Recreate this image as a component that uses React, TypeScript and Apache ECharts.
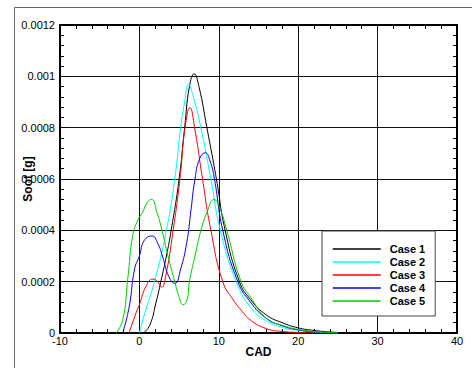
import React, { useEffect, useRef } from "react";
import * as echarts from "echarts";

const caseNames = ["Case 1", "Case 2", "Case 3", "Case 4", "Case 5"];
const caseColors = ["#000000", "#00ffff", "#ff0000", "#0000ff", "#00cc00"];

const case1 = [
  [0.5, 0], [1.3, 0.00003], [2.1, 0.00012], [2.7, 0.0002], [3.4, 0.0003], [4.0, 0.0004],
  [5.0, 0.0006], [5.7, 0.0008], [6.3, 0.00096], [6.9, 0.00101], [7.5, 0.00096], [8.5, 0.0008],
  [9.7, 0.0006], [10.8, 0.0004], [12.6, 0.0002], [14, 0.00013], [16, 0.00007], [18, 0.00004],
  [20, 0.00002], [22, 0.00001], [24, 0.000004], [26, 0],
];
const case2 = [
  [0, 0], [0.8, 0.00009], [1.9, 0.0002], [3.4, 0.0004], [4.45, 0.0006], [5.2, 0.0008],
  [5.7, 0.0009], [6.2, 0.00097], [6.7, 0.00093], [7.75, 0.0008], [9.0, 0.0006], [10.2, 0.0004],
  [12.2, 0.0002], [14, 0.0001], [16, 0.000047], [18, 0.000022], [20, 0.00001], [22, 0.000004], [25, 0],
];
const case3 = [
  [-1.3, 0], [-0.4, 0.00008], [0, 0.00011], [0.8, 0.00018], [1.7, 0.00021], [2.3, 0.0002],
  [2.8, 0.000178], [3.3, 0.00022], [4.25, 0.0004], [5.1, 0.0006], [5.75, 0.0008], [6.37, 0.000878],
  [6.95, 0.0008], [7.95, 0.0006], [9.0, 0.0004], [10.5, 0.0002], [11.8, 0.00013], [12.8, 0.00009],
  [14, 0.00005], [16, 0.000017], [18, 0.000006], [20, 0.000002], [22, 0],
];
const case4 = [
  [-2.1, 0], [-1.3, 0.0001], [-0.6, 0.00025], [0, 0.0003], [0.6, 0.00036], [1.6, 0.000378],
  [2.3, 0.00035], [2.9, 0.0003], [3.7, 0.00022], [4.45, 0.000193], [5.2, 0.00025], [5.95, 0.00035],
  [6.5, 0.00048], [7.0, 0.0006], [7.6, 0.00068], [8.3, 0.000702], [8.9, 0.00067], [9.45, 0.0006],
  [10.5, 0.0004], [12.4, 0.0002], [14, 0.00012], [16, 0.000057], [18, 0.000028], [20, 0.000012],
  [22, 0.000005], [25, 0],
];
const case5 = [
  [-2.95, 0], [-2.1, 0.00005], [-1.47, 0.00021], [-0.84, 0.00038], [-0.2, 0.00044], [0.4, 0.00047],
  [1.0, 0.00051], [1.55, 0.00052], [2.2, 0.00047], [2.85, 0.0004], [3.6, 0.0003], [4.45, 0.0002],
  [5.0, 0.00014], [5.5, 0.00011], [6.0, 0.00013], [6.3, 0.0002], [7.0, 0.0003], [7.75, 0.0004],
  [8.5, 0.00047], [9.4, 0.00052], [10.2, 0.00048], [11.0, 0.0004], [12.8, 0.0002], [14, 0.00014],
  [16, 0.000056], [18, 0.00003], [20, 0.000014], [22, 0.000006], [25, 0],
];
const caseData = [case1, case2, case3, case4, case5];

const FONT = "Liberation Sans, Arial, sans-serif";

export default function App() {
  const ref = useRef<HTMLDivElement>(null);
  useEffect(() => {
    if (!ref.current) return;
    const chart = echarts.init(ref.current, null, { renderer: "svg" });
    const fmt = (v: number) => String(Number(v.toPrecision(6)));
    const baseX = {
      type: "value",
      min: -10,
      max: 40,
      interval: 10,
      axisLine: { show: true, onZero: false, lineStyle: { color: "#000", width: 2 } },
      axisTick: { show: true, inside: true, length: 6, lineStyle: { color: "#000" } },
      minorTick: { show: true, splitNumber: 5, length: 4, lineStyle: { color: "#000" } },
    };
    const baseY = {
      type: "value",
      min: 0,
      max: 0.0012,
      interval: 0.0002,
      axisLine: { show: true, onZero: false, lineStyle: { color: "#000", width: 2 } },
      axisTick: { show: true, inside: true, length: 6, lineStyle: { color: "#000" } },
      minorTick: { show: true, splitNumber: 5, length: 4, lineStyle: { color: "#000" } },
    };
    chart.setOption({
      animation: false,
      backgroundColor: "#fff",
      textStyle: { fontFamily: FONT },
      grid: {
        left: 60,
        top: 25,
        right: 15,
        bottom: 35,
        containLabel: false,
        outerBoundsMode: "none",
      },
      graphic: [
        {
          type: "rect",
          shape: { x: 14.5, y: 7.5, width: 480, height: 400 },
          style: { fill: "none", stroke: "#666", lineWidth: 1 },
          silent: true,
          z: -10,
        },
      ],
      xAxis: [
        {
          ...baseX,
          position: "bottom",
          name: "CAD",
          nameLocation: "middle",
          nameGap: 13,
          nameMoveOverlap: false,
          nameTextStyle: { fontFamily: FONT, fontSize: 12, fontWeight: "bold", color: "#000" },
          axisLabel: { fontFamily: FONT, fontSize: 11, color: "#000", margin: 2, formatter: fmt },
          splitLine: { show: true, lineStyle: { color: "#111", width: 1 } },
        },
        {
          ...baseX,
          position: "top",
          axisLabel: { show: false },
          splitLine: { show: false },
        },
      ],
      yAxis: [
        {
          ...baseY,
          position: "left",
          name: "Soot [g]",
          nameLocation: "middle",
          nameGap: 26,
          nameMoveOverlap: false,
          nameTextStyle: { fontFamily: FONT, fontSize: 12, fontWeight: "bold", color: "#000" },
          axisLabel: { fontFamily: FONT, fontSize: 11, color: "#000", margin: 5, formatter: fmt },
          splitLine: { show: true, lineStyle: { color: "#111", width: 1 } },
        },
        {
          ...baseY,
          position: "right",
          axisLabel: { show: false },
          splitLine: { show: false },
        },
      ],
      legend: {
        orient: "vertical",
        left: 322,
        top: 231,
        padding: [12, 10, 9, 10],
        itemWidth: 48,
        itemHeight: 12,
        itemGap: 1,
        backgroundColor: "#fff",
        borderColor: "#444",
        borderWidth: 1,
        itemStyle: { opacity: 0 },
        lineStyle: { width: 1.5 },
        textStyle: {
          fontFamily: FONT,
          fontSize: 11,
          fontWeight: "bold",
          color: "#000",
          lineHeight: 12,
          padding: [0, 0, 0, 4],
        },
        data: caseNames,
      },
      series: caseNames.map((name, i) => ({
        name,
        type: "line",
        data: caseData[i],
        smooth: 0.5,
        symbol: "none",
        color: caseColors[i],
        lineStyle: { width: 1, color: caseColors[i] },
        xAxisIndex: 0,
        yAxisIndex: 0,
      })),
    });
    return () => chart.dispose();
  }, []);
  return (
    <div
      ref={ref}
      style={{ position: "fixed", left: 0, top: 0, width: 472, height: 368 }}
    />
  );
}
